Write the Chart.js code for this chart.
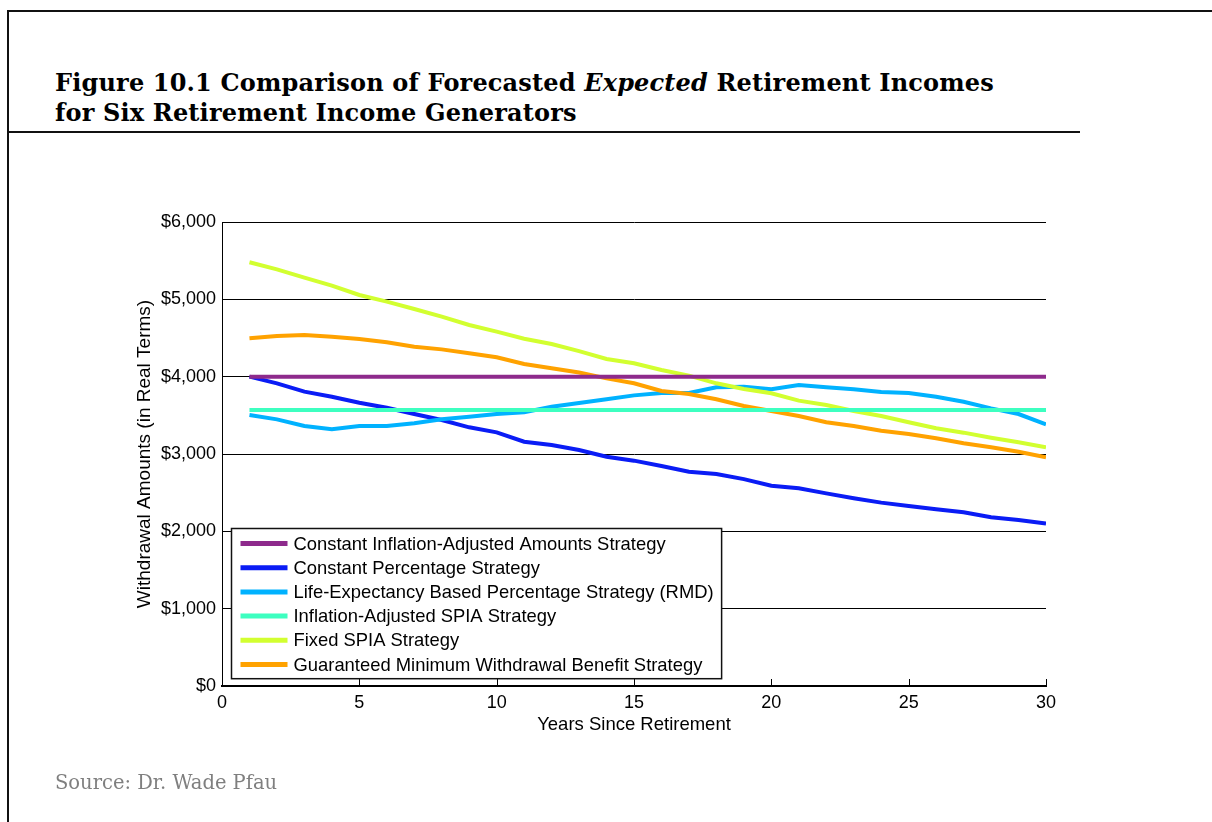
<!DOCTYPE html>
<html>
<head>
<meta charset="utf-8">
<script src="https://cdn.jsdelivr.net/npm/chart.js@4.4.1/dist/chart.umd.min.js"></script>
<style>
  html, body { margin: 0; padding: 0; background: #fff; }
  #page { position: relative; width: 1212px; height: 822px; overflow: hidden; background: #fff; }
  #chart { position: absolute; left: 0; top: 0; }
  .rule { position: absolute; background: #111; }
  #title { position: absolute; left: 55px; top: 68px; font-family: "DejaVu Serif", serif; font-weight: bold;
           font-size: 24px; line-height: 30px; color: #000; white-space: nowrap; letter-spacing: 0.17px; }
  #source { position: absolute; left: 55px; top: 773px; font-family: "DejaVu Serif", serif;
            font-size: 19.5px; line-height: 19.5px; color: #7f7f7f; white-space: nowrap; }
</style>
</head>
<body>
<div id="page">
  <div class="rule" style="left:7px; top:10px; width:1205px; height:2px;"></div>
  <div class="rule" style="left:7px; top:10px; width:2px; height:812px;"></div>
  <div id="title">Figure 10.1 Comparison of Forecasted <em>Expected</em> Retirement Incomes<br>for Six Retirement Income Generators</div>
  <div class="rule" style="left:8px; top:131px; width:1072px; height:2px;"></div>
  <canvas id="chart" width="1212" height="822"></canvas>
  <div id="source">Source: Dr. Wade Pfau</div>
</div>
<script>
// ---- data ----
const years = [1,2,3,4,5,6,7,8,9,10,11,12,13,14,15,16,17,18,19,20,21,22,23,24,25,26,27,28,29,30];

const constantInflationAdjusted = [4000,4000,4000,4000,4000,4000,4000,4000,4000,4000,4000,4000,4000,4000,4000,
                                   4000,4000,4000,4000,4000,4000,4000,4000,4000,4000,4000,4000,4000,4000,4000];
const constantPercentage = [4000,3914,3806,3741,3663,3599,3517,3440,3345,3280,3159,3116,3052,2965,2914,
                            2845,2770,2742,2675,2590,2556,2491,2427,2371,2328,2285,2246,2182,2147,2100];
const lifeExpectancyRMD = [3504,3448,3362,3319,3362,3362,3397,3448,3483,3517,3539,3612,3660,3707,3758,
                           3789,3789,3862,3871,3836,3892,3862,3836,3802,3789,3741,3676,3590,3517,3384];
const inflationAdjustedSPIA = [3570,3570,3570,3570,3570,3570,3570,3570,3570,3570,3570,3570,3570,3570,3570,
                               3570,3570,3570,3570,3570,3570,3570,3570,3570,3570,3570,3570,3570,3570,3570];
const fixedSPIA = [5479,5388,5280,5177,5056,4970,4875,4776,4668,4582,4491,4423,4330,4229,4173,
                   4086,4013,3914,3841,3785,3690,3634,3556,3491,3410,3332,3276,3211,3151,3086];
const gmwb = [4496,4526,4539,4517,4487,4444,4388,4353,4302,4250,4164,4108,4054,3978,3914,
              3815,3776,3707,3621,3556,3491,3410,3362,3302,3259,3203,3138,3086,3030,2957];

const seriesLabels = [
  "Constant Inflation-Adjusted Amounts Strategy",
  "Constant Percentage Strategy",
  "Life-Expectancy Based Percentage Strategy (RMD)",
  "Inflation-Adjusted SPIA Strategy",
  "Fixed SPIA Strategy",
  "Guaranteed Minimum Withdrawal Benefit Strategy"
];
const xTicks = [0,5,10,15,20,25,30];
const yTicks = [0,1000,2000,3000,4000,5000,6000];
// -----------------------------------------

const seriesValues = [constantInflationAdjusted, constantPercentage, lifeExpectancyRMD,
                      inflationAdjustedSPIA, fixedSPIA, gmwb];
const seriesColors = ["#8E2A8C", "#0A1CF5", "#00B2FF", "#3DFFC0", "#D2FF30", "#FFA200"];
const drawOrder = [0, 5, 4, 1, 2, 3];

const FONT = '"Liberation Sans", Arial, sans-serif';

const datasets = seriesValues.map((vals, i) => ({
  label: seriesLabels[i],
  data: years.map((y, k) => ({ x: y, y: vals[k] })),
  borderColor: seriesColors[i],
  backgroundColor: seriesColors[i],
  borderWidth: 4,
  pointRadius: 0,
  tension: 0,
  fill: false,
  borderCapStyle: 'butt',
  order: drawOrder[i]
}));

const extras = {
  id: 'extras',
  afterDraw(chart) {
    const ctx = chart.ctx;
    const xs = chart.scales.x, area = chart.chartArea;
    ctx.save();
    // inward tick marks on x axis
    ctx.strokeStyle = '#000';
    ctx.lineWidth = 1;
    xTicks.forEach(v => {
      const px = Math.round(xs.getPixelForValue(v)) + 0.5;
      ctx.beginPath();
      ctx.moveTo(px, area.bottom);
      ctx.lineTo(px, area.bottom - 7);
      ctx.stroke();
    });
    // legend box inside the plot
    ctx.font = '18.4px ' + FONT;
    const rowH = 24.2;
    let maxW = 0;
    seriesLabels.forEach(t => { maxW = Math.max(maxW, ctx.measureText(t).width); });
    const bx = area.left + 9.5, by = 528.5;
    const lineX0 = bx + 9, lineX1 = bx + 56, textX = bx + 62;
    const bw = (textX - bx) + maxW + 8;
    const bh = rowH * seriesLabels.length + 5;
    ctx.fillStyle = '#fff';
    ctx.fillRect(bx, by, bw, bh);
    ctx.lineWidth = 1.5;
    ctx.strokeStyle = '#111';
    ctx.strokeRect(bx, by, bw, bh);
    ctx.textBaseline = 'middle';
    ctx.textAlign = 'left';
    seriesLabels.forEach((t, i) => {
      const cy = by + 15 + i * rowH;
      ctx.strokeStyle = seriesColors[i];
      ctx.lineWidth = 5;
      ctx.beginPath();
      ctx.moveTo(lineX0, cy);
      ctx.lineTo(lineX1, cy);
      ctx.stroke();
      ctx.fillStyle = '#000';
      ctx.fillText(t, textX, cy + 1);
    });
    ctx.restore();
  }
};

new Chart(document.getElementById('chart'), {
  type: 'line',
  data: { datasets },
  plugins: [extras],
  options: {
    responsive: false,
    animation: false,
    devicePixelRatio: 1,
    layout: { padding: { left: 120, top: 222, right: 166, bottom: 86 } },
    plugins: { legend: { display: false }, tooltip: { enabled: false }, title: { display: false } },
    scales: {
      x: {
        type: 'linear',
        min: 0, max: 30,
        afterBuildTicks: s => { s.ticks = xTicks.map(v => ({ value: v })); },
        ticks: { color: '#000', font: { family: FONT, size: 18 }, padding: 6, maxRotation: 0 },
        grid: { display: false, drawTicks: false },
        border: { display: true, color: '#000', width: 2 },
        title: { display: true, text: 'Years Since Retirement', color: '#000',
                 font: { family: FONT, size: 18.5 }, padding: { top: 0, bottom: 0 } },
        afterFit: s => { s.height = 50; }
      },
      y: {
        type: 'linear',
        min: 0, max: 6000,
        afterBuildTicks: s => { s.ticks = yTicks.map(v => ({ value: v })); },
        ticks: { color: '#000', font: { family: FONT, size: 18 }, padding: 6,
                 callback: v => '$' + Number(v).toLocaleString('en-US') },
        grid: { color: '#000', lineWidth: 1, drawTicks: false },
        border: { display: true, color: '#000', width: 1 },
        title: { display: true, text: 'Withdrawal Amounts (in Real Terms)', color: '#000',
                 font: { family: FONT, size: 19 }, padding: { top: 13, bottom: 0 } },
        afterFit: s => { s.width = 102; }
      }
    }
  }
});
</script>
</body>
</html>
